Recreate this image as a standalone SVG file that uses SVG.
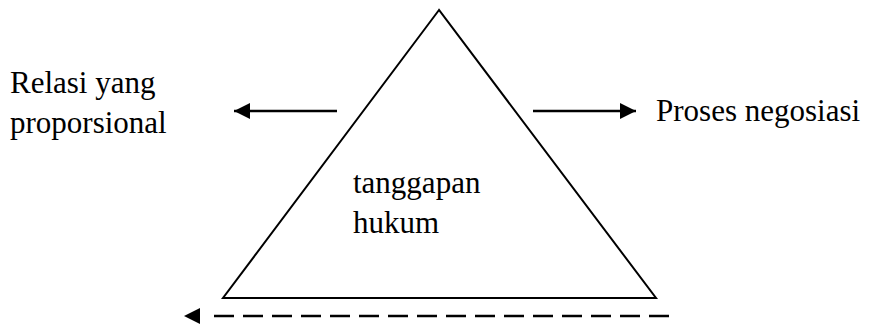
<svg xmlns="http://www.w3.org/2000/svg" width="872" height="324" viewBox="0 0 872 324">
  <style>
    .t { font-family: "Liberation Serif", "Times New Roman", serif; font-size: 31px; fill: #000; }
    .ln { stroke: #000; stroke-width: 2.5; fill: none; }
  </style>
  <defs>
    <marker id="ah" viewBox="0 0 16 16" refX="16" refY="8" markerWidth="16" markerHeight="16" markerUnits="userSpaceOnUse" orient="auto">
      <path d="M0,0 L16,8 L0,16 Z" fill="#000"/>
    </marker>
  </defs>
  <rect width="872" height="324" fill="#fff"/>
  <g id="triangle">
    <polygon points="439,10 223,298 656,298" fill="none" stroke="#000" stroke-width="2"/>
    <text class="t" x="353" y="193">tanggapan</text>
    <text class="t" x="353" y="233">hukum</text>
  </g>
  <g id="relasi">
    <text class="t" x="10" y="93">Relasi yang</text>
    <text class="t" x="10" y="133">proporsional</text>
  </g>
  <g id="proses">
    <text class="t" x="656" y="121">Proses negosiasi</text>
  </g>
  <g id="connectors">
    <line class="ln" x1="337" y1="111" x2="234" y2="111" marker-end="url(#ah)"/>
    <line class="ln" x1="533" y1="111" x2="636" y2="111" marker-end="url(#ah)"/>
    <line class="ln" x1="669" y1="316" x2="208" y2="316" stroke-dasharray="20 9"/>
    <path d="M184,316 L200,308 L200,324 Z" fill="#000"/>
  </g>
</svg>
